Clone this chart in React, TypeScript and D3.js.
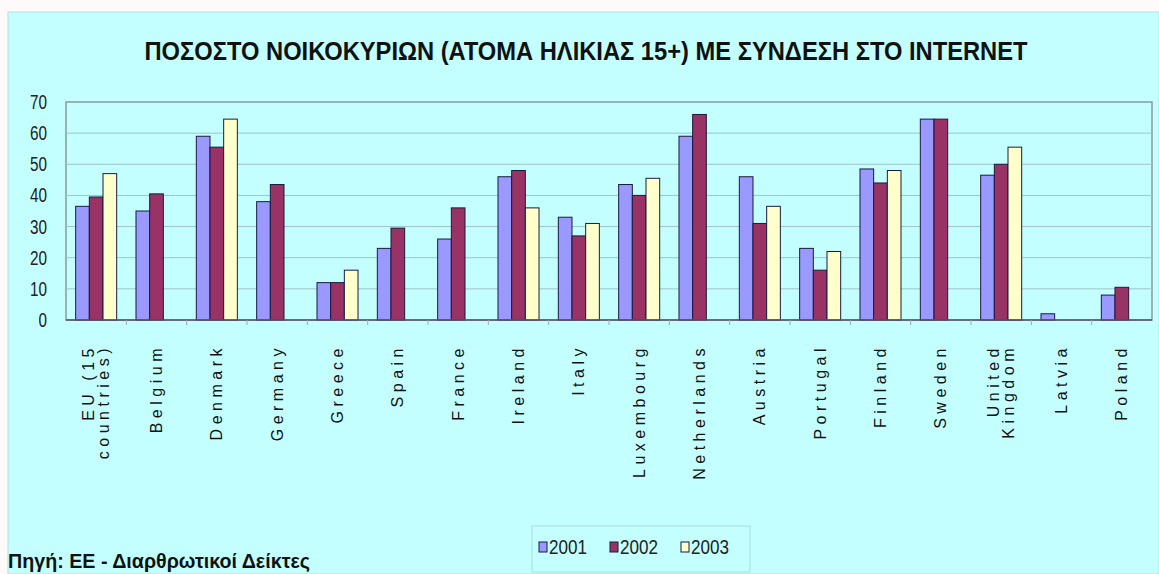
import React from "react";
import * as d3 from "d3";

const categories: string[][] = [
  ["EU (15", "countries)"],
  ["Belgium"],
  ["Denmark"],
  ["Germany"],
  ["Greece"],
  ["Spain"],
  ["France"],
  ["Ireland"],
  ["Italy"],
  ["Luxembourg"],
  ["Netherlands"],
  ["Austria"],
  ["Portugal"],
  ["Finland"],
  ["Sweden"],
  ["United", "Kingdom"],
  ["Latvia"],
  ["Poland"],
];

const seriesNames = ["2001", "2002", "2003"];
const values2001: (number | null)[] = [36.5, 35, 59, 38, 12, 23, 26, 46, 33, 43.5, 59, 46, 23, 48.5, 64.5, 46.5, 2, 8];
const values2002: (number | null)[] = [39.5, 40.5, 55.5, 43.5, 12, 29.5, 36, 48, 27, 40, 66, 31, 16, 44, 64.5, 50, null, 10.5];
const values2003: (number | null)[] = [47, null, 64.5, null, 16, null, null, 36, 31, 45.5, null, 36.5, 22, 48, null, 55.5, null, null];
const yTicks = [0, 10, 20, 30, 40, 50, 60, 70];

const titleText = "ΠΟΣΟΣΤΟ ΝΟΙΚΟΚΥΡΙΩΝ (ΑΤΟΜΑ ΗΛΙΚΙΑΣ 15+) ΜΕ ΣΥΝΔΕΣΗ ΣΤΟ INTERNET";
const sourceText = "Πηγή: ΕΕ - Διαρθρωτικοί Δείκτες";

const colors = ["#9999FF", "#993366", "#FFFFCC"];

export default function App() {
  const W = 1159, H = 574;
  const plot = { left: 66, right: 1152, top: 102, bottom: 320 };
  const keys = categories.map((c) => c.join(" "));
  const x0 = d3.scaleBand<string>().domain(keys).range([plot.left, plot.right]).paddingInner(0.32).paddingOuter(0.16);
  const x1 = d3.scaleBand<string>().domain(seriesNames).range([0, x0.bandwidth()]);
  const y = d3.scaleLinear().domain([0, 70]).range([plot.bottom, plot.top]);
  const allSeries = [values2001, values2002, values2003];
  const narrow = "'Liberation Sans Narrow', 'Arial Narrow', 'Liberation Sans', Arial, sans-serif";
  const step = x0.step();

  return (
    <svg width={W} height={H} style={{ position: "absolute", left: 0, top: 0 }}>
      <rect x={0} y={0} width={W} height={H} fill="#fffafa" />
      <rect x={8} y={12} width={W - 8} height={H - 12} fill="#C4FFFF" stroke="#b0e0e0" />
      <text x={586} y={60} textAnchor="middle" fontFamily={narrow} fontWeight="bold" fontSize={26}
        textLength={883} lengthAdjust="spacingAndGlyphs" fill="#111">{titleText}</text>

      {/* plot area */}
      <rect x={plot.left} y={plot.top} width={plot.right - plot.left} height={plot.bottom - plot.top}
        fill="#C4FFFF" stroke="#8a9a9a" strokeWidth={1.5} />
      {yTicks.filter((t) => t > 0 && t < 70).map((t) => (
        <line key={t} x1={plot.left} x2={plot.right} y1={y(t)} y2={y(t)} stroke="#9ec4c8" strokeWidth={1} />
      ))}
      {yTicks.map((t) => (
        <text key={"yl" + t} x={47} y={y(t)} dy="0.35em" textAnchor="end" fontFamily={narrow} fontSize={20}
          textLength={String(t).length * 8.5} lengthAdjust="spacingAndGlyphs" fill="#222">{t}</text>
      ))}

      {/* bars */}
      {allSeries.map((vals, si) =>
        vals.map((v, ci) =>
          v == null ? null : (
            <rect key={si + "-" + ci}
              x={(x0(keys[ci]) as number) + (x1(seriesNames[si]) as number)}
              y={y(v)}
              width={x1.bandwidth()}
              height={y(0) - y(v)}
              fill={colors[si]} stroke="#1a1a40" strokeWidth={1} />
          )
        )
      )}
      <line x1={plot.left} x2={plot.right} y1={y(0)} y2={y(0)} stroke="#556" strokeWidth={1.5} />
      {keys.slice(1).map((k) => (
        <line key={"t" + k} x1={(x0(k) as number) - step * 0.16} x2={(x0(k) as number) - step * 0.16}
          y1={y(0)} y2={y(0) + 5} stroke="#9ab" strokeWidth={1} />
      ))}

      {/* category labels */}
      {categories.map((lines, ci) => {
        const cx = (x0(keys[ci]) as number) + x0.bandwidth() / 2;
        return lines.map((ln, li) => {
          const off = (li - (lines.length - 1) / 2) * 15;
          return (
            <text key={ci + "-" + li} transform={`translate(${cx + off},344) rotate(-90)`} dy="0.35em"
              textAnchor="end" fontFamily="'Liberation Sans', Arial, sans-serif" fontSize={16}
              letterSpacing={4.5} fill="#111">{ln}</text>
          );
        });
      })}

      {/* legend */}
      <rect x={532} y={526} width={218} height={46} fill="#C4FFFF" stroke="#a8dede" />
      {seriesNames.map((s, i) => {
        const lx = 539 + i * 71;
        return (
          <g key={s}>
            <rect x={lx} y={542} width={8} height={10} fill={colors[i]} stroke="#1a1a40" strokeWidth={1} />
            <text x={lx + 10} y={547} dy="0.35em" fontFamily={narrow} fontSize={21} textLength={38}
              lengthAdjust="spacingAndGlyphs" fill="#222">{s}</text>
          </g>
        );
      })}

      <text x={8} y={568} fontFamily={narrow} fontWeight="bold" fontSize={20} textLength={302}
        lengthAdjust="spacingAndGlyphs" fill="#111">{sourceText}</text>
    </svg>
  );
}
